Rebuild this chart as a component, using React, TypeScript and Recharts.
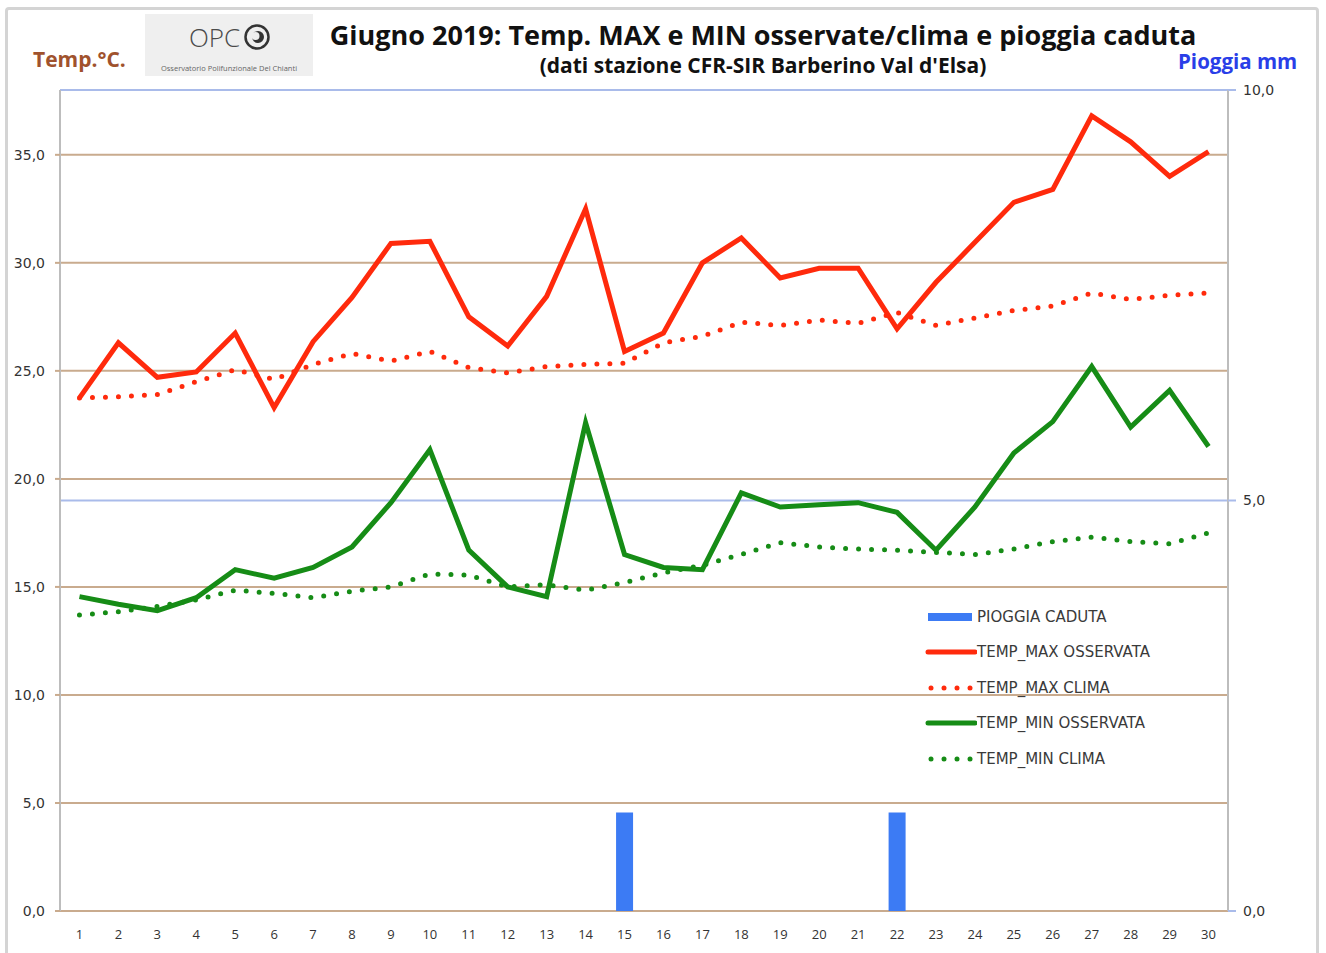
import React from 'react';
import {
  ComposedChart,
  Line,
  Bar,
  XAxis,
  YAxis,
  CartesianGrid,
  ReferenceLine,
  Legend,
} from 'recharts';

// giorni di giugno
const days = [1, 2, 3, 4, 5, 6, 7, 8, 9, 10, 11, 12, 13, 14, 15, 16, 17, 18, 19, 20, 21, 22, 23, 24, 25, 26, 27, 28, 29, 30];

const tmaxObs = [23.75, 26.3, 24.7, 24.95, 26.75, 23.3, 26.35, 28.4, 30.9, 31.0, 27.5, 26.15, 28.45, 32.5, 25.9, 26.75, 30.0, 31.15, 29.3, 29.75, 29.75, 26.95, 29.1, 30.95, 32.8, 33.4, 36.8, 35.6, 34.0, 35.15];
const tmaxClima = [23.75, 23.8, 23.9, 24.5, 25.05, 24.6, 25.3, 25.8, 25.45, 25.9, 25.15, 24.9, 25.2, 25.3, 25.35, 26.3, 26.6, 27.25, 27.1, 27.35, 27.2, 27.7, 27.1, 27.45, 27.8, 28.0, 28.6, 28.3, 28.5, 28.6];
const tminObs = [14.55, 14.2, 13.9, 14.5, 15.8, 15.4, 15.9, 16.85, 18.9, 21.35, 16.7, 15.0, 14.55, 22.6, 16.5, 15.9, 15.8, 19.35, 18.7, 18.8, 18.9, 18.45, 16.7, 18.7, 21.2, 22.65, 25.2, 22.4, 24.1, 21.5];
const tminClima = [13.7, 13.85, 14.1, 14.4, 14.85, 14.7, 14.5, 14.8, 15.0, 15.6, 15.55, 15.0, 15.1, 14.85, 15.2, 15.65, 16.0, 16.5, 17.05, 16.85, 16.75, 16.7, 16.6, 16.5, 16.75, 17.1, 17.3, 17.1, 17.0, 17.5];
const rain = [0, 0, 0, 0, 0, 0, 0, 0, 0, 0, 0, 0, 0, 0, 1.2, 0, 0, 0, 0, 0, 0, 1.2, 0, 0, 0, 0, 0, 0, 0, 0];

const tempTicks = [0, 5, 10, 15, 20, 25, 30, 35];
const rainTicks = [0, 5, 10];

const data = days.map((d, i) => ({
  day: d,
  rain: rain[i],
  tmaxObs: tmaxObs[i],
  tmaxClima: tmaxClima[i],
  tminObs: tminObs[i],
  tminClima: tminClima[i],
}));

const RED = '#ff2a0c';
const GREEN = '#168c16';
const BLUE = '#3c7bf4';
const BROWN = '#c9ab8e';
const LIGHTBLUE = '#a9bbea';
const AXIS = '#bdbdbd';

const fmt = (v: number) => v.toFixed(1).replace('.', ',');

const legendItems = [
  { name: 'PIOGGIA CADUTA', color: BLUE, kind: 'bar' },
  { name: 'TEMP_MAX OSSERVATA', color: RED, kind: 'line' },
  { name: 'TEMP_MAX CLIMA', color: RED, kind: 'dots' },
  { name: 'TEMP_MIN OSSERVATA', color: GREEN, kind: 'line' },
  { name: 'TEMP_MIN CLIMA', color: GREEN, kind: 'dots' },
];

const renderLegend = () => (
  <div style={{ fontFamily: 'DejaVu Sans', fontSize: 15, color: '#3a3a3a' }}>
    {legendItems.map((it) => (
      <div key={it.name} style={{ display: 'flex', alignItems: 'center', height: 35.5 }}>
        <svg width={52} height={12} style={{ flex: 'none' }}>
          {it.kind === 'bar' && <rect x={3} y={2} width={44} height={8} fill={it.color} />}
          {it.kind === 'line' && (
            <line x1={3} y1={6} x2={50} y2={6} stroke={it.color} strokeWidth={5} strokeLinecap="round" />
          )}
          {it.kind === 'dots' &&
            [6, 19, 32, 45].map((cx) => <circle key={cx} cx={cx} cy={6} r={2.5} fill={it.color} />)}
        </svg>
        <span style={{ whiteSpace: 'nowrap' }}>{it.name}</span>
      </div>
    ))}
  </div>
);

const Logo = () => (
  <div
    style={{
      position: 'absolute',
      left: 145,
      top: 14,
      width: 168,
      height: 62,
      background: '#efefef',
    }}
  >
    <div
      style={{
        position: 'absolute',
        left: 44,
        top: 10,
        fontFamily: 'Open Sans',
        fontWeight: 300,
        fontSize: 26,
        lineHeight: 1,
        color: '#4a4a4a',
      }}
    >
      OPC
    </div>
    <svg style={{ position: 'absolute', left: 98, top: 10 }} width={30} height={30}>
      <circle cx={14} cy={13} r={11.5} fill="none" stroke="#333" strokeWidth={2.5} />
      <circle cx={15} cy={13} r={6} fill="#333" />
      <circle cx={12.5} cy={12} r={4} fill="#efefef" />
    </svg>
    <div
      style={{
        position: 'absolute',
        left: 0,
        width: 168,
        top: 49,
        textAlign: 'center',
        fontFamily: 'Open Sans',
        fontSize: 7.5,
        color: '#666',
        whiteSpace: 'nowrap',
      }}
    >
      Osservatorio Polifunzionale Del Chianti
    </div>
  </div>
);

export default function App() {
  return (
    <div
      style={{
        position: 'relative',
        width: 1326,
        height: 953,
        overflow: 'hidden',
        background: '#fff',
      }}
    >
      <style>{'body{margin:0}'}</style>
      <div
        style={{
          position: 'absolute',
          left: 5,
          top: 7,
          width: 1308,
          height: 980,
          border: '3px solid #d4d4d4',
          borderRadius: 4,
        }}
      />
      <div style={{ position: 'absolute', left: 0, top: 0 }}>
        <ComposedChart
          width={1326}
          height={953}
          data={data}
          margin={{ top: 90, right: 0, bottom: 0, left: 0 }}
        >
          <CartesianGrid yAxisId="left" vertical={false} stroke={BROWN} strokeWidth={2} />
          <ReferenceLine yAxisId="right" y={5} stroke={LIGHTBLUE} strokeWidth={2} />
          <ReferenceLine yAxisId="right" y={10} stroke={LIGHTBLUE} strokeWidth={2} />
          <XAxis
            dataKey="day"
            interval={0}
            height={42}
            axisLine={false}
            tickLine={false}
            tickSize={6}
            tickMargin={13}
            tick={{ fontSize: 13, fill: '#333', fontFamily: 'Open Sans' }}
          />
          <YAxis
            yAxisId="left"
            width={60}
            domain={[0, 38]}
            ticks={tempTicks}
            tickFormatter={fmt}
            axisLine={{ stroke: AXIS, strokeWidth: 2 }}
            tickLine={{ stroke: BROWN, strokeWidth: 2 }}
            tickSize={5}
            tickMargin={10}
            tick={{ fontSize: 14, fill: '#333', fontFamily: 'DejaVu Sans' }}
          />
          <YAxis
            yAxisId="right"
            orientation="right"
            width={98}
            domain={[0, 10]}
            ticks={rainTicks}
            tickFormatter={fmt}
            axisLine={{ stroke: AXIS, strokeWidth: 2 }}
            tickLine={{ stroke: LIGHTBLUE, strokeWidth: 2 }}
            tickSize={8}
            tickMargin={7}
            tick={{ fontSize: 14, fill: '#333', fontFamily: 'DejaVu Sans' }}
          />
          <Legend
            content={renderLegend}
            layout="vertical"
            align="center"
            verticalAlign="middle"
            wrapperStyle={{ left: 925, top: 599, width: 280 }}
          />
          <Bar yAxisId="right" dataKey="rain" name="PIOGGIA CADUTA" fill={BLUE} barSize={17} isAnimationActive={false} />
          <Line
            yAxisId="left"
            type="linear"
            dataKey="tmaxClima"
            name="TEMP_MAX CLIMA"
            stroke={RED}
            strokeWidth={5}
            strokeDasharray="0 13"
            strokeLinecap="round"
            dot={false}
            isAnimationActive={false}
          />
          <Line
            yAxisId="left"
            type="linear"
            dataKey="tminClima"
            name="TEMP_MIN CLIMA"
            stroke={GREEN}
            strokeWidth={5}
            strokeDasharray="0 13"
            strokeLinecap="round"
            dot={false}
            isAnimationActive={false}
          />
          <Line
            yAxisId="left"
            type="linear"
            dataKey="tmaxObs"
            name="TEMP_MAX OSSERVATA"
            stroke={RED}
            strokeWidth={5}
            dot={false}
            isAnimationActive={false}
          />
          <Line
            yAxisId="left"
            type="linear"
            dataKey="tminObs"
            name="TEMP_MIN OSSERVATA"
            stroke={GREEN}
            strokeWidth={5}
            dot={false}
            isAnimationActive={false}
          />
        </ComposedChart>
      </div>

      <div
        style={{
          position: 'absolute',
          left: 33,
          top: 49,
          fontFamily: 'Open Sans',
          fontWeight: 700,
          fontSize: 21,
          lineHeight: 1,
          color: '#a0522d',
          whiteSpace: 'nowrap',
        }}
      >
        Temp.°C.
      </div>
      <Logo />
      <div
        style={{
          position: 'absolute',
          left: 263,
          width: 1000,
          top: 21,
          textAlign: 'center',
          fontFamily: 'Open Sans',
          fontWeight: 700,
          fontSize: 27,
          lineHeight: 1,
          color: '#111',
          whiteSpace: 'nowrap',
        }}
      >
        Giugno 2019: Temp. MAX e MIN osservate/clima e pioggia caduta
      </div>
      <div
        style={{
          position: 'absolute',
          left: 263,
          width: 1000,
          top: 55,
          textAlign: 'center',
          fontFamily: 'Open Sans',
          fontWeight: 700,
          fontSize: 21,
          lineHeight: 1,
          color: '#111',
          whiteSpace: 'nowrap',
        }}
      >
        (dati stazione CFR-SIR Barberino Val d'Elsa)
      </div>
      <div
        style={{
          position: 'absolute',
          left: 1178,
          top: 51,
          fontFamily: 'Open Sans',
          fontWeight: 700,
          fontSize: 20.5,
          lineHeight: 1,
          color: '#2a3ee8',
          whiteSpace: 'nowrap',
        }}
      >
        Pioggia mm
      </div>
    </div>
  );
}
